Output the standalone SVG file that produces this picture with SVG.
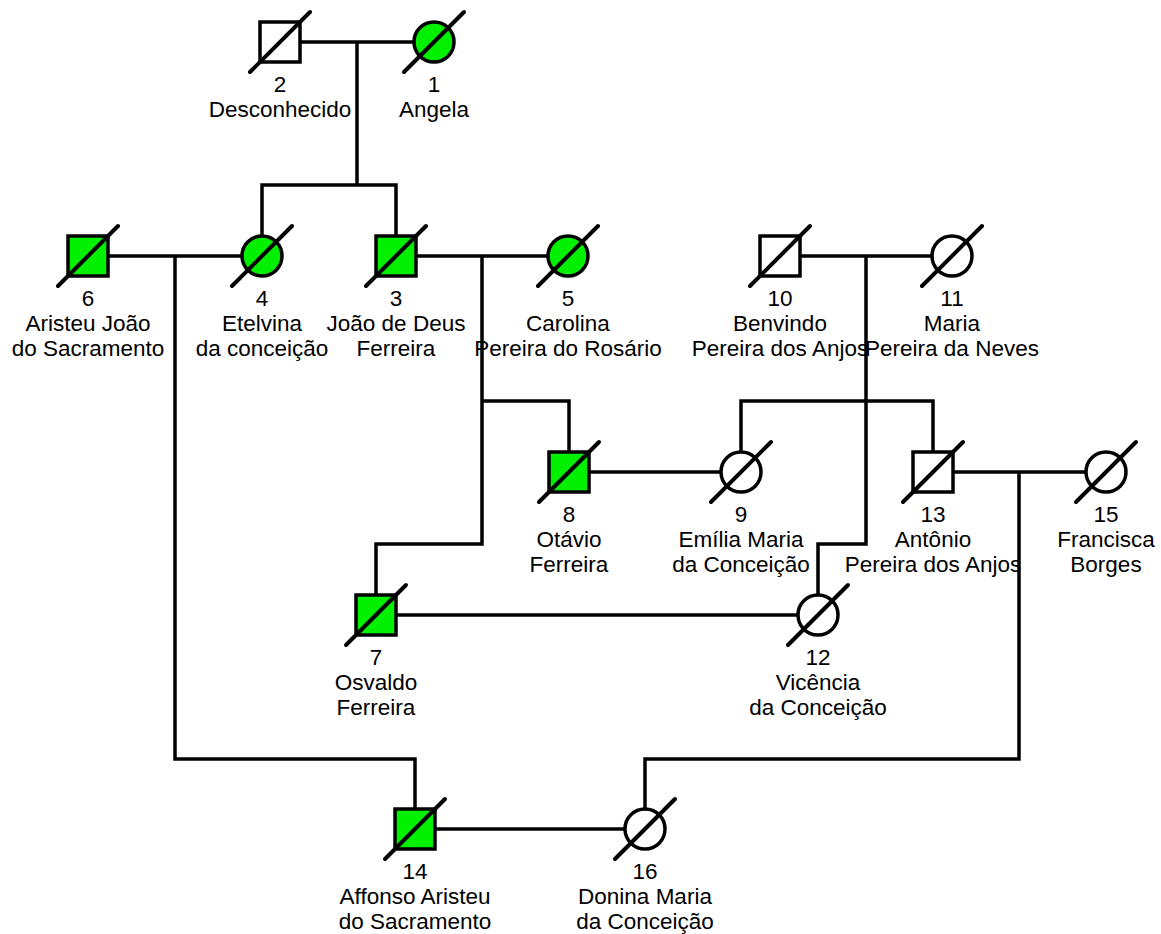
<svg xmlns="http://www.w3.org/2000/svg" width="1161" height="934" viewBox="0 0 1161 934">
<style>
.ln{fill:none;stroke:#000;stroke-width:3.5;stroke-linecap:square}
.m{stroke:#000;stroke-width:3.5}
.aff{fill:#00f000}
.un{fill:#fff}
.sl{stroke:#000;stroke-width:4;stroke-linecap:round}
text{font-family:"Liberation Sans",Arial,sans-serif;font-size:22.5px;fill:#000;text-anchor:middle}
</style>
<rect width="1161" height="934" fill="#fff"/>
<g id="connectors">
<path class="ln" d="M300,42H414M357,42V185M262,185H396M262,185V236M396,185V236"/>
<path class="ln" d="M108,256H242M175,256V759H415V809"/>
<path class="ln" d="M416,256H548M482,256V544M482,401H569V452M482,544H376V595"/>
<path class="ln" d="M800,256H932M866,256V544M741,401H933M741,401V452M933,401V452M866,544H818V594"/>
<path class="ln" d="M589,472H721"/>
<path class="ln" d="M396,615H798"/>
<path class="ln" d="M953,472H1086M1019,472V759H645V809"/>
<path class="ln" d="M435,829H625"/>
</g>
<g id="n1"><circle class="m aff" cx="434" cy="42" r="20"/><line class="sl" x1="404" y1="72" x2="464" y2="12"/><text x="434" y="92">1</text><text x="434" y="117">Angela</text></g>
<g id="n2"><rect class="m un" x="260" y="22" width="40" height="40"/><line class="sl" x1="250" y1="72" x2="310" y2="12"/><text x="280" y="92">2</text><text x="280" y="117">Desconhecido</text></g>
<g id="n3"><rect class="m aff" x="376" y="236" width="40" height="40"/><line class="sl" x1="366" y1="286" x2="426" y2="226"/><text x="396" y="306">3</text><text x="396" y="331">João de Deus</text><text x="396" y="356">Ferreira</text></g>
<g id="n4"><circle class="m aff" cx="262" cy="256" r="20"/><line class="sl" x1="232" y1="286" x2="292" y2="226"/><text x="262" y="306">4</text><text x="262" y="331">Etelvina</text><text x="262" y="356">da conceição</text></g>
<g id="n5"><circle class="m aff" cx="568" cy="256" r="20"/><line class="sl" x1="538" y1="286" x2="598" y2="226"/><text x="568" y="306">5</text><text x="568" y="331">Carolina</text><text x="568" y="356">Pereira do Rosário</text></g>
<g id="n6"><rect class="m aff" x="68" y="236" width="40" height="40"/><line class="sl" x1="58" y1="286" x2="118" y2="226"/><text x="88" y="306">6</text><text x="88" y="331">Aristeu João</text><text x="88" y="356">do Sacramento</text></g>
<g id="n7"><rect class="m aff" x="356" y="595" width="40" height="40"/><line class="sl" x1="346" y1="645" x2="406" y2="585"/><text x="376" y="665">7</text><text x="376" y="690">Osvaldo</text><text x="376" y="715">Ferreira</text></g>
<g id="n8"><rect class="m aff" x="549" y="452" width="40" height="40"/><line class="sl" x1="539" y1="502" x2="599" y2="442"/><text x="569" y="522">8</text><text x="569" y="547">Otávio</text><text x="569" y="572">Ferreira</text></g>
<g id="n9"><circle class="m un" cx="741" cy="472" r="20"/><line class="sl" x1="711" y1="502" x2="771" y2="442"/><text x="741" y="522">9</text><text x="741" y="547">Emília Maria</text><text x="741" y="572">da Conceição</text></g>
<g id="n10"><rect class="m un" x="760" y="236" width="40" height="40"/><line class="sl" x1="750" y1="286" x2="810" y2="226"/><text x="780" y="306">10</text><text x="780" y="331">Benvindo</text><text x="780" y="356">Pereira dos Anjos</text></g>
<g id="n11"><circle class="m un" cx="952" cy="256" r="20"/><line class="sl" x1="922" y1="286" x2="982" y2="226"/><text x="952" y="306">11</text><text x="952" y="331">Maria</text><text x="952" y="356">Pereira da Neves</text></g>
<g id="n12"><circle class="m un" cx="818" cy="615" r="20"/><line class="sl" x1="788" y1="645" x2="848" y2="585"/><text x="818" y="665">12</text><text x="818" y="690">Vicência</text><text x="818" y="715">da Conceição</text></g>
<g id="n13"><rect class="m un" x="913" y="452" width="40" height="40"/><line class="sl" x1="903" y1="502" x2="963" y2="442"/><text x="933" y="522">13</text><text x="933" y="547">Antônio</text><text x="933" y="572">Pereira dos Anjos</text></g>
<g id="n14"><rect class="m aff" x="395" y="809" width="40" height="40"/><line class="sl" x1="385" y1="859" x2="445" y2="799"/><text x="415" y="879">14</text><text x="415" y="904">Affonso Aristeu</text><text x="415" y="929">do Sacramento</text></g>
<g id="n15"><circle class="m un" cx="1106" cy="472" r="20"/><line class="sl" x1="1076" y1="502" x2="1136" y2="442"/><text x="1106" y="522">15</text><text x="1106" y="547">Francisca</text><text x="1106" y="572">Borges</text></g>
<g id="n16"><circle class="m un" cx="645" cy="829" r="20"/><line class="sl" x1="615" y1="859" x2="675" y2="799"/><text x="645" y="879">16</text><text x="645" y="904">Donina Maria</text><text x="645" y="929">da Conceição</text></g>
</svg>
